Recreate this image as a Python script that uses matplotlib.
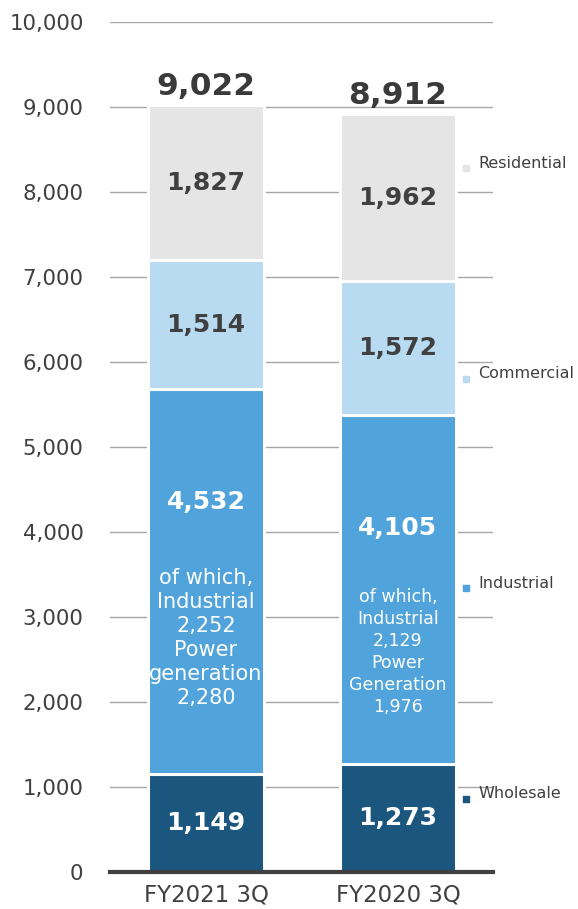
import numpy as np
import matplotlib
matplotlib.use('Agg')
import matplotlib.pyplot as plt

# Chart data
categories = ['FY2021 3Q', 'FY2020 3Q']
segments = ['Wholesale', 'Industrial', 'Commercial', 'Residential']
wholesale = [1149, 1273]
industrial = [4532, 4105]
commercial = [1514, 1572]
residential = [1827, 1962]
totals = [9022, 8912]
yticks = [0, 1000, 2000, 3000, 4000, 5000, 6000, 7000, 8000, 9000, 10000]
breakdown = [['of which,', 'Industrial', '2,252', 'Power', 'generation', '2,280'],
             ['of which,', 'Industrial', '2,129', 'Power', 'Generation', '1,976']]

colors = ['#1B567F', '#50A3DB', '#B8DBF1', '#E5E5E5']
text_colors = ['white', 'white', '#404040', '#404040']
legend_y = [918, 3400, 5860, 8340]

plt.rcParams['font.family'] = ['DejaVu Sans']

fig = plt.figure(figsize=(5.78, 9.09), dpi=100)
ax = fig.add_axes([110 / 578, 37 / 909, 383 / 578, 850 / 909])

x = np.arange(len(categories))
width = 0.604
series = [wholesale, industrial, commercial, residential]
bottom = np.zeros(len(categories))

for i, vals in enumerate(series):
    vals = np.array(vals)
    ax.bar(x, vals, width, bottom=bottom, color=colors[i],
           edgecolor='white', linewidth=2.2, zorder=3)
    for j in range(len(categories)):
        if segments[i] == 'Industrial':
            # value sits near the top of the segment, breakdown below it
            ypos = bottom[j] + vals[j] - 1330
        else:
            ypos = bottom[j] + vals[j] / 2
        ax.text(x[j], ypos, f'{vals[j]:,}', ha='center', va='center',
                fontsize=18, fontweight='bold', color=text_colors[i], zorder=4)
    bottom = bottom + vals

# Breakdown of industrial segment
block_centers = [2753, 2588]
font_sizes = [15, 12.5]
spacings = [1.24, 1.28]
for j in range(len(categories)):
    ax.text(x[j], block_centers[j], '\n'.join(breakdown[j]), ha='center',
            va='center', fontsize=font_sizes[j], color='white',
            linespacing=spacings[j], zorder=4)

# Totals above bars
for j in range(len(categories)):
    ax.text(x[j], totals[j] + 220, f'{totals[j]:,}', ha='center', va='center',
            fontsize=22.5, fontweight='bold', color='#3A3A3A', zorder=4)

# Side legend labels
for i, name in enumerate(segments):
    ax.scatter([1.354], [legend_y[i] - 60], marker='s', s=22, color=colors[i],
               clip_on=False, zorder=4)
    ax.text(1.417, legend_y[i], name, ha='left', va='center', fontsize=11.5,
            color='#404040', clip_on=False, zorder=4)

ax.set_xlim(-0.5, 1.495)
ax.set_ylim(0, 10000)
ax.set_yticks(yticks)
ax.set_yticklabels([f'{v:,}' for v in yticks], fontsize=15.3, color='#404040')
ax.set_xticks(x)
ax.set_xticklabels(categories, fontsize=16.5, color='#404040')
ax.tick_params(axis='y', length=0, pad=19)
ax.tick_params(axis='x', length=0, pad=8)

ax.yaxis.grid(True, color='#A6A6A6', linewidth=1)
ax.set_axisbelow(True)
for side in ['top', 'right', 'left']:
    ax.spines[side].set_visible(False)
ax.spines['bottom'].set_color('#404040')
ax.spines['bottom'].set_linewidth(3)
ax.spines['bottom'].set_zorder(5)

fig.savefig('out.png', dpi=100)
